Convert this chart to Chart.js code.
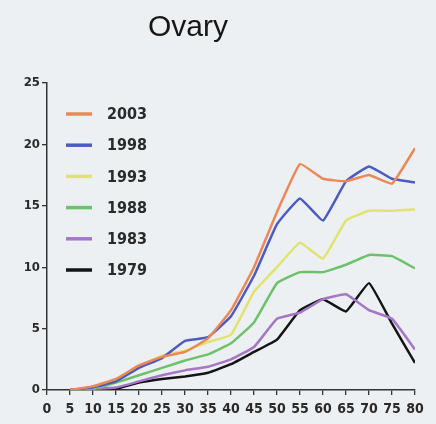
<!DOCTYPE html>
<html>
<head>
<meta charset="utf-8">
<script src="https://cdn.jsdelivr.net/npm/chart.js@4/dist/chart.umd.min.js"></script>
<style>
  html, body { margin: 0; padding: 0; background: #edf0f2; }
  #wrap { width: 436px; height: 424px; }
</style>
</head>
<body>
<div id="wrap"><canvas id="ovaryChart" width="436" height="424"></canvas></div>
<script>
// age groups (years)
const ages = [5, 10, 15, 20, 25, 30, 35, 40, 45, 50, 55, 60, 65, 70, 75, 80];

// incidence per year of diagnosis
const y2003 = [0, 0.3, 0.9, 2.0, 2.7, 3.1, 4.2, 6.5, 10.0, 14.5, 18.4, 17.2, 17.0, 17.5, 16.8, 19.7];
const y1998 = [0, 0.2, 0.7, 1.8, 2.6, 4.0, 4.3, 6.0, 9.3, 13.5, 15.6, 13.8, 17.0, 18.2, 17.2, 16.9];
const y1993 = [0, 0.2, 0.8, 1.9, 2.8, 3.2, 3.9, 4.5, 8.0, 10.0, 12.0, 10.7, 13.8, 14.6, 14.6, 14.7];
const y1988 = [0, 0.1, 0.6, 1.2, 1.8, 2.4, 2.9, 3.8, 5.5, 8.7, 9.6, 9.6, 10.2, 11.0, 10.9, 9.9];
const y1983 = [0, 0.1, 0.2, 0.7, 1.2, 1.6, 1.9, 2.5, 3.5, 5.8, 6.3, 7.4, 7.8, 6.5, 5.8, 3.3];
const y1979 = [0, 0, 0.1, 0.6, 0.9, 1.1, 1.4, 2.1, 3.1, 4.1, 6.5, 7.4, 6.4, 8.7, 5.4, 2.2];

const yTicks = [0, 5, 10, 15, 20, 25];
const xTicks = [0, 5, 10, 15, 20, 25, 30, 35, 40, 45, 50, 55, 60, 65, 70, 75, 80];

const narrow = "'Liberation Sans Narrow', 'DejaVu Sans Condensed', 'Liberation Sans', sans-serif";

const series = [
  { label: '2003', data: y2003, color: '#ec8858' },
  { label: '1998', data: y1998, color: '#4b5bbf' },
  { label: '1993', data: y1993, color: '#e2e36c' },
  { label: '1988', data: y1988, color: '#6cc26a' },
  { label: '1983', data: y1983, color: '#a676c6' },
  { label: '1979', data: y1979, color: '#141414' }
];

// title + legend drawn by hand, the legend sits inside the plot like the figure
const decor = {
  id: 'decor',
  afterDraw(chart) {
    const ctx = chart.ctx;
    const area = chart.chartArea;
    ctx.save();
    ctx.fillStyle = '#161616';
    ctx.font = "30px 'Liberation Sans', Arial, sans-serif";
    ctx.textAlign = 'center';
    ctx.textBaseline = 'alphabetic';
    ctx.fillText('Ovary', 188, 36);

    ctx.font = "bold 16px " + narrow;
    ctx.textAlign = 'left';
    ctx.textBaseline = 'middle';
    chart.data.datasets.forEach((ds, i) => {
      const y = area.top + 31 + i * 31.2;
      ctx.strokeStyle = ds.borderColor;
      ctx.lineWidth = 3.5;
      ctx.beginPath();
      ctx.moveTo(area.left + 19, y);
      ctx.lineTo(area.left + 45, y);
      ctx.stroke();
      ctx.fillStyle = '#2a2a2a';
      ctx.fillText(ds.label, area.left + 60, y + 1);
    });
    ctx.restore();
  }
};

new Chart(document.getElementById('ovaryChart'), {
  type: 'line',
  data: {
    labels: ages,
    datasets: series.map(s => ({
      label: s.label,
      data: ages.map((a, i) => ({ x: a, y: s.data[i] })),
      borderColor: s.color,
      backgroundColor: s.color,
      borderWidth: 2.5,
      pointRadius: 0,
      tension: 0.1,
      fill: false
    }))
  },
  options: {
    responsive: false,
    animation: false,
    layout: { padding: { top: 83, right: 21, left: 0, bottom: 0 } },
    plugins: {
      legend: { display: false },
      title: { display: false },
      tooltip: { enabled: false }
    },
    scales: {
      x: {
        type: 'linear',
        min: 0,
        max: 80,
        afterBuildTicks: s => { s.ticks = xTicks.map(v => ({ value: v })); },
        afterFit: s => { s.height = 34; },
        grid: { display: true, drawOnChartArea: false, drawTicks: true, tickLength: 5, color: '#333', lineWidth: 1.3 },
        border: { display: true, color: '#333', width: 1.5 },
        ticks: { color: '#2a2a2a', padding: 6, maxRotation: 0, autoSkip: false, font: { family: narrow, size: 14, weight: 'bold' } }
      },
      y: {
        min: 0,
        max: 25,
        afterBuildTicks: s => { s.ticks = yTicks.map(v => ({ value: v })); },
        afterFit: s => { s.width = 47; },
        grid: { display: true, drawOnChartArea: false, drawTicks: true, tickLength: 5, color: '#333', lineWidth: 1.3 },
        border: { display: true, color: '#333', width: 1.5 },
        ticks: { color: '#2a2a2a', padding: 2, font: { family: narrow, size: 13, weight: 'bold' } }
      }
    }
  },
  plugins: [decor]
});
</script>
</body>
</html>
